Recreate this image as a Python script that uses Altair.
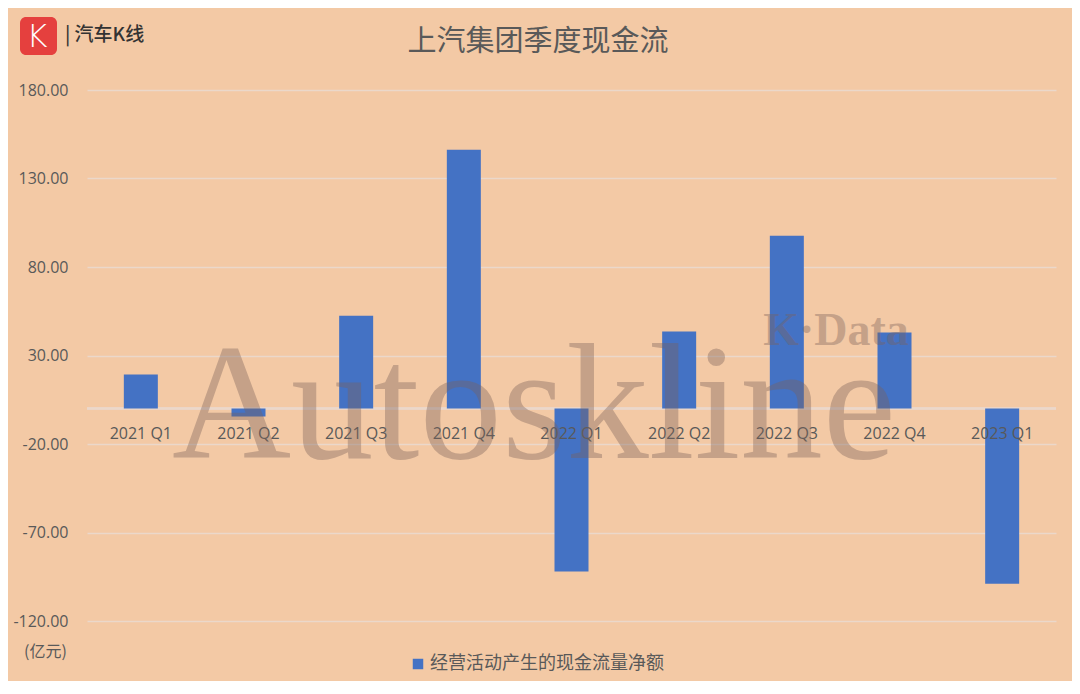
import altair as alt
import pandas as pd

quarters = ["2021 Q1", "2021 Q2", "2021 Q3", "2021 Q4", "2022 Q1",
            "2022 Q2", "2022 Q3", "2022 Q4", "2023 Q1"]
cash_flow = [19.2, -4.5, 52.5, 146.3, -92.0, 43.5, 97.7, 43.0, -98.9]
series_name = "经营活动产生的现金流量净额"
y_ticks = [-120, -70, -20, 30, 80, 130, 180]

title_text = "上汽集团季度现金流"
unit_text = "(亿元)"
brand_text = "| 汽车K线"
watermark_text = "Autoskline"
watermark2_text = "K·Data"

df = pd.DataFrame({"quarter": quarters, "value": cash_flow,
                   "series": [series_name] * len(quarters)})

BG = "#F3C9A5"
BAR = "#4472C4"
GRID = "#EBD8CA"
TXT = "#595959"

x_enc = alt.X("quarter:N", sort=quarters, axis=None,
              scale=alt.Scale(paddingInner=0, paddingOuter=0))
y_scale = alt.Scale(domain=[-120, 180], nice=False, zero=False)

base = alt.Chart(df)

bars = base.mark_bar(size=34).encode(
    x=x_enc,
    y=alt.Y("value:Q", scale=y_scale,
            axis=alt.Axis(values=y_ticks, domain=False, ticks=False,
                          labelExpr="replace(format(datum.value, '.2f'), '\u2212', '-')",
                          grid=True, gridColor=GRID, gridWidth=1.5,
                          labelColor=TXT, labelFontSize=16, labelFont="Open Sans",
                          labelPadding=19,
                          title=unit_text, titleAngle=0, titleX=-42, titleY=561,
                          titleAlign="center", titleBaseline="middle",
                          titleFontSize=16, titleFontWeight="normal",
                          titleColor=TXT, titleFont="Noto Sans CJK SC")),
    color=alt.Color("series:N", scale=alt.Scale(domain=[series_name], range=[BAR]),
                    legend=alt.Legend(orient="none", legendX=322, legendY=565,
                                      title=None, symbolType="square", symbolSize=110,
                                      symbolStrokeWidth=0, labelFontSize=18,
                                      labelColor=TXT, labelFont="Noto Sans CJK SC",
                                      labelOffset=3, padding=0, labelLimit=0)),
)

zero_line = base.mark_rule(color=GRID, strokeWidth=1.5).encode(
    y=alt.datum(0)
)

cat_labels = base.mark_text(dy=25, fontSize=16, font="Open Sans", color=TXT).encode(
    x=x_enc, y=alt.datum(0), text="quarter:N"
)

title_df = pd.DataFrame({"t": [title_text]})
title_mark = alt.Chart(title_df).mark_text(
    fontSize=29, font="Noto Sans CJK SC", color=TXT, baseline="middle", align="center"
).encode(x=alt.value(451), y=alt.value(-48), text="t:N")

brand_df = pd.DataFrame({"t": [brand_text]})
brand_mark = alt.Chart(brand_df).mark_text(
    fontSize=19, font="Noto Sans CJK SC", fontWeight=500, color="#333333",
    baseline="middle", align="left"
).encode(x=alt.value(-22), y=alt.value(-55), text="t:N")

logo_df = pd.DataFrame({"k": ["K"]})
logo_box = alt.Chart(logo_df).mark_rect(color="#E5403E", cornerRadius=6).encode(
    x=alt.value(-67), x2=alt.value(-30), y=alt.value(-73), y2=alt.value(-35)
)
logo_k = alt.Chart(logo_df).mark_text(
    fontSize=32, font="DejaVu Sans", fontWeight=200, color="white",
    baseline="middle", align="center"
).encode(x=alt.value(-50), y=alt.value(-53), text="k:N")

wm_df = pd.DataFrame({"t": [watermark_text]})
wm = alt.Chart(wm_df).mark_text(
    fontSize=165, font="Liberation Serif", color="#7B625A", opacity=0.38,
    baseline="alphabetic", align="center"
).encode(x=alt.value(447), y=alt.value(368), text="t:N")

wm2_df = pd.DataFrame({"t": [watermark2_text]})
wm2 = alt.Chart(wm2_df).mark_text(
    fontSize=46, font="Liberation Serif", fontWeight="bold", color="#7B625A",
    opacity=0.38, baseline="alphabetic", align="center"
).encode(x=alt.value(749), y=alt.value(255), text="t:N")

chart = alt.layer(
    zero_line, bars, cat_labels, title_mark, logo_box, logo_k, brand_mark, wm, wm2
).properties(
    width=969, height=531,
    background=BG,
    autosize=alt.AutoSizeParams(type="none"),
    padding={"left": 79, "top": 82, "right": 16, "bottom": 60},
).configure_view(stroke=None)

chart.save("out.html", embed_options={"renderer": "svg", "actions": False})
